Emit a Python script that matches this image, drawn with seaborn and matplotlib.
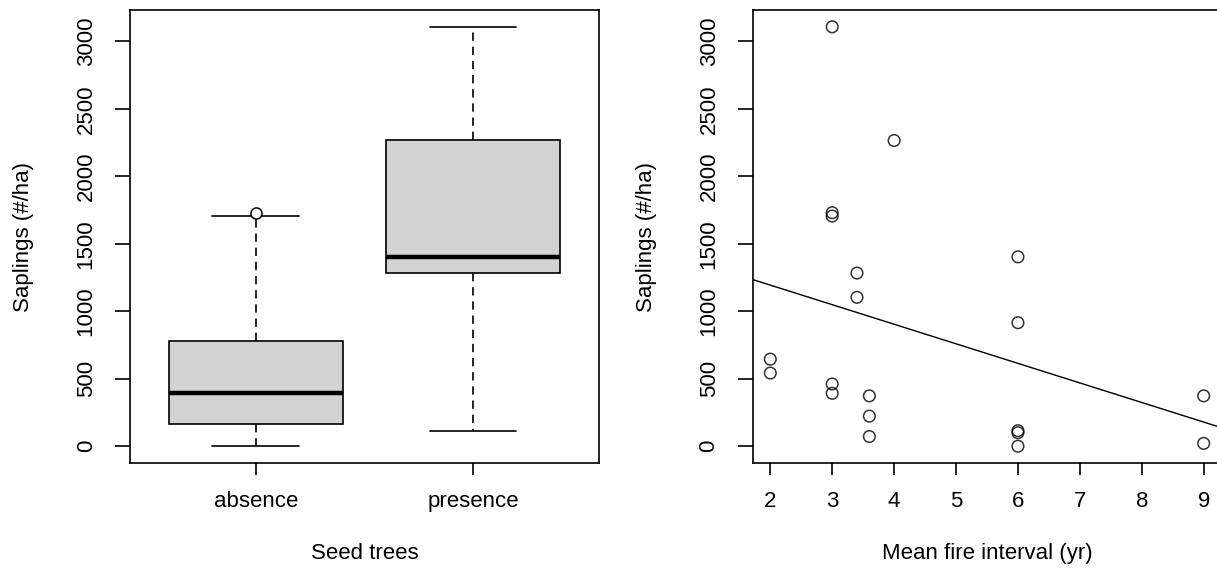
import pandas as pd
import seaborn as sns
import matplotlib.pyplot as plt

# values
fire_interval = [2, 2, 3, 3, 3, 3, 3, 3.4, 3.4, 3.6, 3.6, 3.6, 4, 6, 6, 6, 6, 6, 9, 9]
saplings = [645, 542, 3107, 1705, 1730, 461, 392, 1283, 1103, 373, 223, 72,
            2265, 1403, 915, 115, 100, 0, 373, 21]
seed_trees = ['absence', 'absence', 'presence', 'absence', 'absence', 'absence',
              'absence', 'presence', 'absence', 'absence', 'absence', 'absence',
              'presence', 'presence', 'absence', 'presence', 'absence', 'absence',
              'absence', 'absence']
group_order = ['absence', 'presence']
y_ticks = [0, 500, 1000, 1500, 2000, 2500, 3000]
x_ticks = [2, 3, 4, 5, 6, 7, 8, 9]

df = pd.DataFrame({'interval': fire_interval, 'saplings': saplings, 'seed': seed_trees})

sns.set_style('ticks')
plt.rcParams['font.family'] = ['Liberation Sans', 'DejaVu Sans']
plt.rcParams['font.size'] = 16
plt.rcParams['axes.edgecolor'] = 'black'
plt.rcParams['axes.linewidth'] = 1.2
plt.rcParams['xtick.color'] = 'black'
plt.rcParams['ytick.color'] = 'black'
plt.rcParams['text.color'] = 'black'
plt.rcParams['axes.labelcolor'] = 'black'

fig = plt.figure(figsize=(12.17, 5.69), dpi=100)
ax1 = fig.add_axes([0.1068, 0.1863, 0.3854, 0.796])
ax2 = fig.add_axes([0.6187, 0.1863, 0.3846, 0.796])

# R-style ylim: data range padded by 4%
ymin, ymax = min(saplings), max(saplings)
pad = 0.04 * (ymax - ymin)

# left: boxplot
sns.boxplot(data=df, x='seed', y='saplings', order=group_order, ax=ax1,
            color='#D3D3D3', saturation=1, width=0.8, linecolor='black', linewidth=1.2,
            whiskerprops=dict(linestyle=(0, (5, 3.5)), linewidth=1.2),
            capprops=dict(linewidth=1.2),
            medianprops=dict(linewidth=3.2, color='black'),
            flierprops=dict(marker='o', markerfacecolor='white', markeredgecolor='black',
                            markersize=8, markeredgewidth=1.1))
ax1.set_xlim(-0.58, 1.58)
ax1.set_ylim(ymin - pad, ymax + pad)
ax1.set_xlabel('Seed trees', labelpad=22)

# right: scatter with linear fit
ax2.set_xlim(1.72, 9.28)
ax2.set_ylim(ymin - pad, ymax + pad)
sns.regplot(data=df, x='interval', y='saplings', ax=ax2, ci=None, truncate=False,
            color='black', marker='o',
            scatter_kws=dict(facecolors='none', edgecolors='black', s=70, linewidths=1.1),
            line_kws=dict(color='black', linewidth=1))
ax2.set_xlim(1.72, 9.28)
ax2.set_xticks(x_ticks)
ax2.set_xlabel('Mean fire interval (yr)', labelpad=22)

for ax in (ax1, ax2):
    ax.set_yticks(y_ticks)
    ax.set_ylabel('Saplings (#/ha)', labelpad=30)
    for s in ax.spines.values():
        s.set_visible(True)
    ax.tick_params(axis='x', length=8.5, width=1.2, pad=12)
    ax.tick_params(axis='y', length=11, width=1.2, pad=13, labelrotation=90)
    for lab in ax.get_yticklabels():
        lab.set_verticalalignment('center')

fig.savefig('out.png', dpi=100)
